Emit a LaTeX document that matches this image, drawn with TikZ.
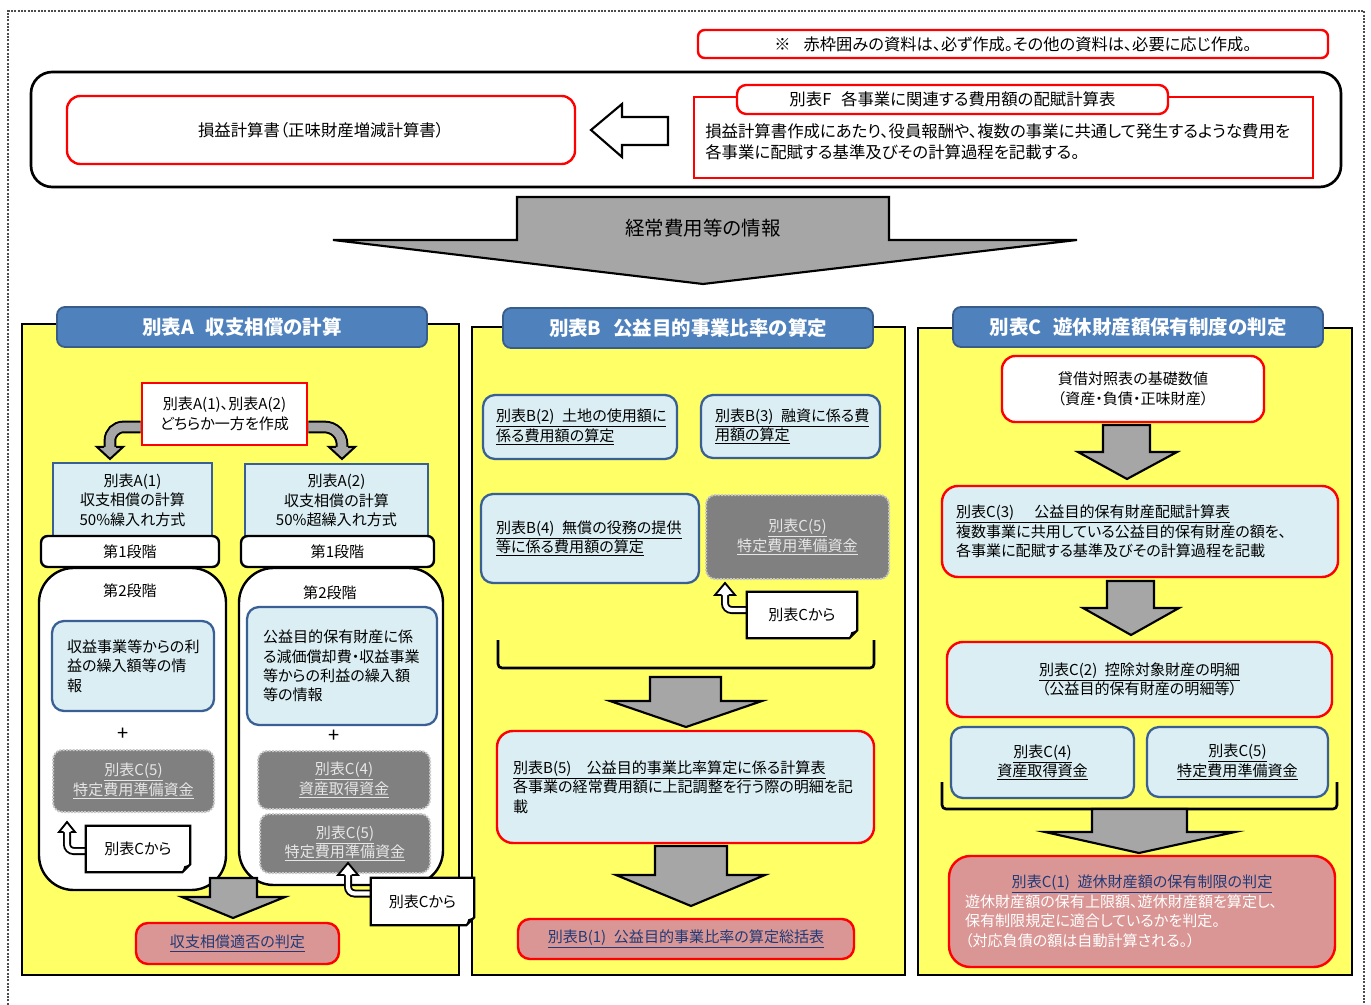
\documentclass[tikz,border=0pt]{standalone}
\usepackage{fontspec}
\setmainfont{Noto Sans CJK JP}[RawFeature=+palt]
\usetikzlibrary{calc}
\pgfdeclarelayer{back}
\pgfdeclarelayer{mid}
\pgfsetlayers{back,mid,main}
\definecolor{pyellow}{HTML}{FFFF66}
\definecolor{tblue}{HTML}{4F81BD}
\definecolor{tbluedk}{HTML}{385D8A}
\definecolor{lblue}{HTML}{DAEEF3}
\definecolor{lbord}{HTML}{3A5F95}
\definecolor{gbox}{HTML}{808080}
\definecolor{gbord}{HTML}{C8C8C8}
\definecolor{gtext}{HTML}{E6E6E6}
\definecolor{pinkf}{HTML}{D99694}
\definecolor{navy}{HTML}{1F3A78}
\definecolor{arrg}{HTML}{A6A6A6}
\newcommand\fb{\fontsize{11.3pt}{14.6pt}\selectfont}
\newcommand\ftop{\fontsize{12.3pt}{15.75pt}\selectfont}
\newcommand\fttl{\fontsize{14.6pt}{16pt}\selectfont\bfseries}
\newcommand\ul[1]{\underline{#1}}
\newcommand\gap{\hspace{0.5em}}
\newcommand\bx[7]{\node[#1, minimum width={((#5)-(#3))*0.75pt}, minimum height={((#6)-(#4))*0.75pt}] (#2) at ({((#3)+(#5))/2},{((#4)+(#6))/2}) {#7};}
\newcommand\noteframe[1]{%
  \filldraw[fill=white, draw=black, line width=1.6pt, line join=miter] (#1.north west) -- (#1.north east) -- ($(#1.south east)+(0,-8)$) -- ($(#1.south east)+(-8,0)$) -- (#1.south west) -- cycle;
  \fill[black] ($(#1.south east)+(0,-8)$) -- ($(#1.south east)+(-6,-6)$) -- ($(#1.south east)+(-8,0)$) -- cycle;}
\begin{document}
\begin{tikzpicture}[x=0.75pt, y=-0.75pt,
 every node/.style={font=\fb, inner sep=0pt, align=center},
 panel/.style={draw=black, line width=2pt, fill=pyellow},
 ttl/.style={draw=tbluedk, fill=tblue, line width=1.4pt, rounded corners=6pt, text=white, font=\fttl},
 lb/.style={draw=lbord, fill=lblue, line width=1.7pt, rounded corners=9pt},
 lbsq/.style={draw=lbord, fill=lblue, line width=1.7pt},
 rlb/.style={draw=red, fill=lblue, line width=1.8pt, rounded corners=12pt},
 rw/.style={draw=red, fill=white, line width=1.8pt, rounded corners=10pt},
 gb/.style={draw=gbord, fill=gbox, line width=1.5pt, dash pattern=on 1.5pt off 1pt, rounded corners=7pt, text=gtext},
 pk/.style={draw=red, fill=pinkf, line width=1.8pt, rounded corners=9pt},
 st1/.style={draw=black, fill=white, line width=1.8pt, rounded corners=5pt},
 st2/.style={draw=black, fill=white, line width=1.8pt, rounded corners=26pt},
 blk/.style={draw=black, fill=arrg, line width=1.6pt, line join=miter},
 hookout/.style={draw=black, line width=6pt, rounded corners=5pt},
 hookin/.style={draw=white, line width=3.2pt, rounded corners=5pt},
 hookhead/.style={fill=white, draw=black, line width=1.4pt, line join=miter},
 garrout/.style={draw=black, line width=9.5pt, rounded corners=10pt},
 garrin/.style={draw=arrg, line width=6.5pt, rounded corners=10pt},
 garrhead/.style={fill=arrg, draw=black, line width=1.5pt, line join=miter},
 brk/.style={draw=black, line width=2pt, rounded corners=3pt},
 lw/.style={align=left}
]
\useasboundingbox (0,0) rectangle (1371,1005);
% outer dashed frame
\draw[draw=black!70, line width=0.8pt, dash pattern=on 1.5pt off 1pt] (8,1008) -- (8,11) -- (1364,11) -- (1364,1008);

% ---------------- top area
\bx{rw, rounded corners=5pt, font=\fontsize{12.2pt}{14pt}\selectfont}{notice}{698}{30}{1328}{58}{※\hspace{0.8em}赤枠囲みの資料は、必ず作成。その他の資料は、必要に応じ作成。}
\bx{draw=black, line width=2pt, rounded corners=16pt}{topframe}{31}{72}{1341}{187}{}
\bx{draw=red, line width=1.8pt, rounded corners=10pt, font=\ftop}{pl}{67}{96}{575}{164}{損益計算書（正味財産増減計算書）}
\bx{draw=red, line width=1.8pt}{fbox}{694}{97}{1313}{178}{}
\bx{rw, rounded corners=7pt, font=\ftop}{ftitle}{737}{85}{1168}{114}{別表F\hspace{0.6em}各事業に関連する費用額の配賦計算表}
\node[anchor=west, align=left, font=\ftop] (fbody) at (705,141.5) {損益計算書作成にあたり、役員報酬や、複数の事業に共通して発生するような費用を\\各事業に配賦する基準及びその計算過程を記載する。};
\filldraw[fill=white, draw=black, line width=1.6pt, line join=miter] (591,130) -- (622,104) -- (622,117) -- (668,117) -- (668,145) -- (622,145) -- (622,157) -- cycle;
\filldraw[blk] (517,197) -- (889,197) -- (889,240) -- (1077,240) -- (703,284) -- (333,240) -- (517,240) -- cycle;
\node[font=\fontsize{14.6pt}{16pt}\selectfont] (info) at (703,228) {経常費用等の情報};

% ---------------- panels
\begin{pgfonlayer}{back}
\bx{panel}{pA}{22}{324}{459}{975}{}
\bx{panel}{pB}{472}{327}{905}{975}{}
\bx{panel}{pC}{918}{328}{1352}{975}{}
\bx{st2}{s2l}{39}{568}{226}{890}{}
\bx{st2}{s2r}{239}{568}{443}{885}{}
\end{pgfonlayer}
\bx{ttl}{tA}{57}{307}{427}{347}{別表A\hspace{0.6em}収支相償の計算}
\bx{ttl}{tB}{503}{308}{873}{348}{別表B\hspace{0.6em}公益目的事業比率の算定}
\bx{ttl}{tC}{953}{307}{1323}{347}{別表C\hspace{0.6em}遊休財産額保有制度の判定}

% ---------------- panel A
\bx{draw=red, fill=white, line width=2pt}{ra}{142}{383}{307}{445}{別表A(1)、別表A(2)\\どちらか一方を作成}
\begin{pgfonlayer}{mid}
\draw[garrout] ($(ra.west)+(0,13)$) -| (110,449);
\draw[garrin] ($(ra.west)+(0,13)$) -| (110,449);
\filldraw[garrhead] (104,447) -- (97,447) -- (110,459) -- (123,447) -- (116,447);
\draw[garrout, rounded corners=13pt] ($(ra.east)+(0,13)$) -| (342,449);
\draw[garrin, rounded corners=13pt] ($(ra.east)+(0,13)$) -| (342,449);
\filldraw[garrhead] (336,447) -- (329,447) -- (342,459) -- (355,447) -- (348,447);
\end{pgfonlayer}
\bx{lbsq}{a1}{53}{463}{212}{537}{別表A(1)\\収支相償の計算\\50\%繰入れ方式}
\bx{lbsq}{a2}{245}{464}{428}{537}{別表A(2)\\収支相償の計算\\50\%超繰入れ方式}
\bx{st1}{s1l}{41}{536}{219}{567}{第1段階}
\bx{st1}{s1r}{241}{536}{434}{567}{第1段階}
\node (s2lt) at (130,591) {第2段階};
\node (s2rt) at (330,593) {第2段階};
\bx{lb, lw, text width=99pt}{ia}{52}{621}{214}{711}{収益事業等からの利\\益の繰入額等の情\\報}
\bx{lb, lw, text width=118.5pt}{ib}{247}{607}{437}{725}{公益目的保有財産に係\\る減価償却費・収益事業\\等からの利益の繰入額\\等の情報}
\node[font=\fontsize{15pt}{15pt}\selectfont] (plusl) at (123,734) {+};
\node[font=\fontsize{15pt}{15pt}\selectfont] (plusr) at (334,736) {+};
\bx{gb}{gl}{53}{750}{214}{812}{\ul{別表C(5)}\\\ul{特定費用準備資金}}
\bx{gb}{gr1}{258}{751}{430}{809}{\ul{別表C(4)}\\\ul{資産取得資金}}
\bx{gb}{gr2}{260}{814}{430}{873}{\ul{別表C(5)}\\\ul{特定費用準備資金}}
\bx{}{nl}{86}{826}{190}{872}{別表Cから}
\bx{}{nr}{371}{878}{474}{925}{別表Cから}
\begin{pgfonlayer}{mid}
\draw[hookout] ($(nl.west)+(0,2)$) -| (67,830);
\draw[hookin] ($(nl.west)+(0,2)$) -| (67,830);
\noteframe{nl}
\draw[hookout] ($(nr.west)+(0,-8)$) -| (348,873);
\draw[hookin] ($(nr.west)+(0,-8)$) -| (348,873);
\noteframe{nr}
\end{pgfonlayer}
\filldraw[hookhead] (63.5,832) -- (59,832) -- (67,822) -- (75,832) -- (70.5,832);
\filldraw[hookhead] (344.5,875) -- (338,875) -- (348,863) -- (358,875) -- (351.5,875);
\filldraw[blk] (210,878) -- (257,878) -- (257,897) -- (285,897) -- (233,918) -- (182,897) -- (210,897) -- cycle;
\bx{pk}{jA}{136}{923}{339}{964}{\color{navy}\ul{収支相償適否の判定}}

% ---------------- panel B
\bx{lb, lw, text width=126pt}{b2}{483}{395}{677}{459}{\ul{別表B(2)\gap 土地の使用額に}\\\ul{係る費用額の算定}}
\bx{lb, lw, text width=113.25pt}{b3}{701}{395}{880}{458}{\ul{別表B(3)\gap 融資に係る費}\\\ul{用額の算定}}
\bx{lb, lw, text width=141pt}{b4}{481}{494}{699}{583}{\ul{別表B(4)\gap 無償の役務の提供}\\\ul{等に係る費用額の算定}}
\bx{gb}{bc5}{706}{495}{889}{579}{\ul{別表C(5)}\\\ul{特定費用準備資金}}
\bx{}{nb}{747}{592}{857}{638}{別表Cから}
\begin{pgfonlayer}{mid}
\draw[hookout] ($(nb.west)+(0,-5)$) -| (725,593);
\draw[hookin] ($(nb.west)+(0,-5)$) -| (725,593);
\noteframe{nb}
\end{pgfonlayer}
\filldraw[hookhead] (721.5,595) -- (715,595) -- (725,583) -- (735,595) -- (728.5,595);
\draw[brk] (498,640) -- (498,668) -- (874,668) -- (874,640);
\filldraw[blk] (650,677) -- (721,677) -- (721,701) -- (762,701) -- (686,727) -- (610,701) -- (650,701) -- cycle;
\bx{rlb, lw, text width=258.75pt}{b5}{497}{731}{874}{843}{\ul{別表B(5)　公益目的事業比率算定に係る計算表}\\各事業の経常費用額に上記調整を行う際の明細を記\\載}
\filldraw[blk] (655,846) -- (727,846) -- (727,875) -- (765,875) -- (691,906) -- (616,875) -- (655,875) -- cycle;
\bx{pk}{b1}{518}{919}{854}{959}{\color{navy}\ul{別表B(1)\gap 公益目的事業比率の算定総括表}}

% ---------------- panel C
\bx{rw}{cbs}{1002}{356}{1264}{422}{貸借対照表の基礎数値\\（資産・負債・正味財産）}
\filldraw[blk] (1103,425) -- (1150,425) -- (1150,452) -- (1177,452) -- (1127,479) -- (1078,452) -- (1103,452) -- cycle;
\bx{rlb, lw, text width=276pt}{c3}{942}{486}{1338}{577}{\ul{別表C(3)　 公益目的保有財産配賦計算表}\\複数事業に共用している公益目的保有財産の額を、\\各事業に配賦する基準及びその計算過程を記載}
\filldraw[blk] (1107,581) -- (1154,581) -- (1154,608) -- (1179,608) -- (1131,635) -- (1083,608) -- (1107,608) -- cycle;
\bx{rlb}{c2}{947}{642}{1332}{717}{\ul{別表C(2)\gap 控除対象財産の明細}\\（公益目的保有財産の明細等）}
\bx{lb}{c4}{951}{727}{1134}{798}{\ul{別表C(4)}\\\ul{資産取得資金}}
\bx{lb}{c5}{1147}{727}{1328}{797}{\ul{別表C(5)}\\\ul{特定費用準備資金}}
\draw[brk] (942,782) -- (942,809) -- (1337,809) -- (1337,782);
\filldraw[blk] (1092,809) -- (1187,809) -- (1187,832) -- (1235,832) -- (1139,853) -- (1045,832) -- (1092,832) -- cycle;
\bx{pk, rounded corners=16pt, lw, text width=265.5pt}{c1}{949}{856}{1335}{967}{\makebox[265.5pt]{\color{navy}\ul{別表C(1)\gap 遊休財産額の保有制限の判定}}\\\color{white}遊休財産額の保有上限額、遊休財産額を算定し、\\\color{white}保有制限規定に適合しているかを判定。\\\color{white}（対応負債の額は自動計算される。）}
\end{tikzpicture}
\end{document}
